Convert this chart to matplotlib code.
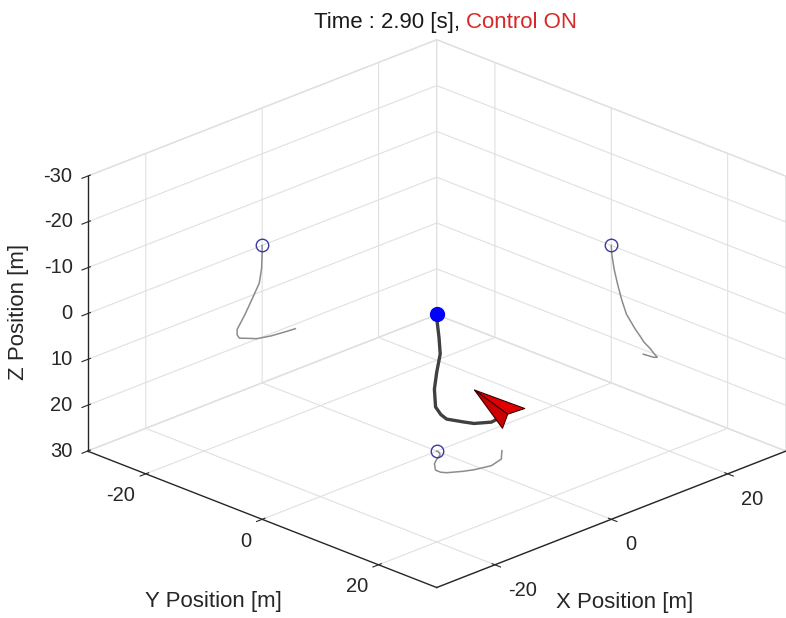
import numpy as np
import matplotlib.pyplot as plt
from mpl_toolkits.mplot3d.art3d import Poly3DCollection

plt.rcParams['font.family'] = ['Liberation Sans', 'DejaVu Sans']
plt.rcParams['axes.unicode_minus'] = False
plt.rcParams['grid.color'] = '#e0e0e0'
plt.rcParams['grid.linewidth'] = 0.8
plt.rcParams['axes.edgecolor'] = '#262626'
plt.rcParams['axes.linewidth'] = 1.0

# trajectory of the vehicle (NED, metres)
x_pos = [0.0, 0.0, -0.1, -0.5, -1.8, -3.0, -4.3, -4.3, -3.9, -2.2, -0.9, 1.5, 3.8, 5.7]
y_pos = [0.0, 0.1, 0.5, 1.1, 1.8, 2.6, 4.1, 5.0, 5.6, 6.7, 7.3, 7.9, 7.3, 5.5]
z_pos = [0.0, 2.0, 5.0, 8.0, 11.0, 13.7, 16.2, 17.4, 18.3, 19.2, 19.9, 20.5, 20.8, 21.0]

# body marker (cone) vertices
cone_x = [7.6, 7.86, 5.15, 1.6]
cone_y = [-1.1, 7.26, 7.05, 9.7]
cone_z = [21.0, 21.0, 21.0, 21.0]

lim = 30
xy_ticks = [-20, 0, 20]
z_ticks = [-30, -20, -10, 0, 10, 20, 30]
t_now = 2.90

fig = plt.figure(figsize=(7.86, 6.18), dpi=100)
ax = fig.add_axes([0.045, -0.021, 1, 1], projection='3d', proj_type='ortho', computed_zorder=False)
ax.set_box_aspect((1, 1, 0.605), zoom=1.193)
ax.view_init(elev=23, azim=-135)

ax.set_xlim(-lim, lim)
ax.set_ylim(lim, -lim)
ax.set_zlim(lim, -lim)
ax.set_xticks(xy_ticks)
ax.set_yticks(xy_ticks)
ax.set_zticks(z_ticks)

for a in (ax.xaxis, ax.yaxis, ax.zaxis):
    a.set_pane_color((1, 1, 1, 1))
    a.pane.set_edgecolor('#e0e0e0')
ax.tick_params(labelsize=14.5, colors='#262626')
ax.tick_params(axis='x', pad=1)
ax.tick_params(axis='y', pad=-1)
ax.tick_params(axis='z', pad=-3)
plt.setp(ax.get_xticklabels(), ha='left', va='top')
plt.setp(ax.get_yticklabels(), ha='right', va='top')
plt.setp(ax.get_zticklabels(), ha='right', va='center')

xs = np.array(x_pos)
ys = np.array(y_pos)
zs = np.array(z_pos)
shadow = '#8c8c8c'
ax.plot(xs, np.full_like(ys, -lim), zs, color=shadow, lw=1.1, zorder=2)
ax.plot(np.full_like(xs, lim), ys, zs, color=shadow, lw=1.1, zorder=2)
ax.plot(xs, ys, np.full_like(zs, lim), color=shadow, lw=1.1, zorder=2)
ax.plot([xs[0]], [-lim], [zs[0]], 'o', mfc='none', mec='#3a3aa0', ms=9, zorder=3)
ax.plot([lim], [ys[0]], [zs[0]], 'o', mfc='none', mec='#3a3aa0', ms=9, zorder=3)
ax.plot([xs[0]], [ys[0]], [lim], 'o', mfc='none', mec='#3a3aa0', ms=9, zorder=3)

ax.plot(xs, ys, zs, color='#404040', lw=2.4, zorder=4)
ax.plot([xs[0]], [ys[0]], [zs[0]], 'o', color='#0000ff', ms=10, zorder=5)

v = list(zip(cone_x, cone_y, cone_z))
faces = [[v[0], v[1], v[2]], [v[0], v[2], v[3]]]
cone = Poly3DCollection(faces, facecolors=['#e00000', '#cc0000'], edgecolors='#3a0000', linewidths=0.8)
cone.set_zorder(6)
ax.add_collection3d(cone)

fig.text(0.585, 0.955, f'Time : {t_now:.2f} [s],', ha='right', va='baseline', fontsize=16, color='#1a1a1a')
fig.text(0.593, 0.955, 'Control ON', ha='left', va='baseline', fontsize=16, color='#d62828')
fig.text(0.271, 0.027, 'Y Position [m]', ha='center', va='center', fontsize=16, color='#262626')
fig.text(0.795, 0.025, 'X Position [m]', ha='center', va='center', fontsize=16, color='#262626')
fig.text(0.024, 0.496, 'Z Position [m]', ha='center', va='center', rotation=90, fontsize=16, color='#262626')

fig.savefig('out.png', dpi=100)
